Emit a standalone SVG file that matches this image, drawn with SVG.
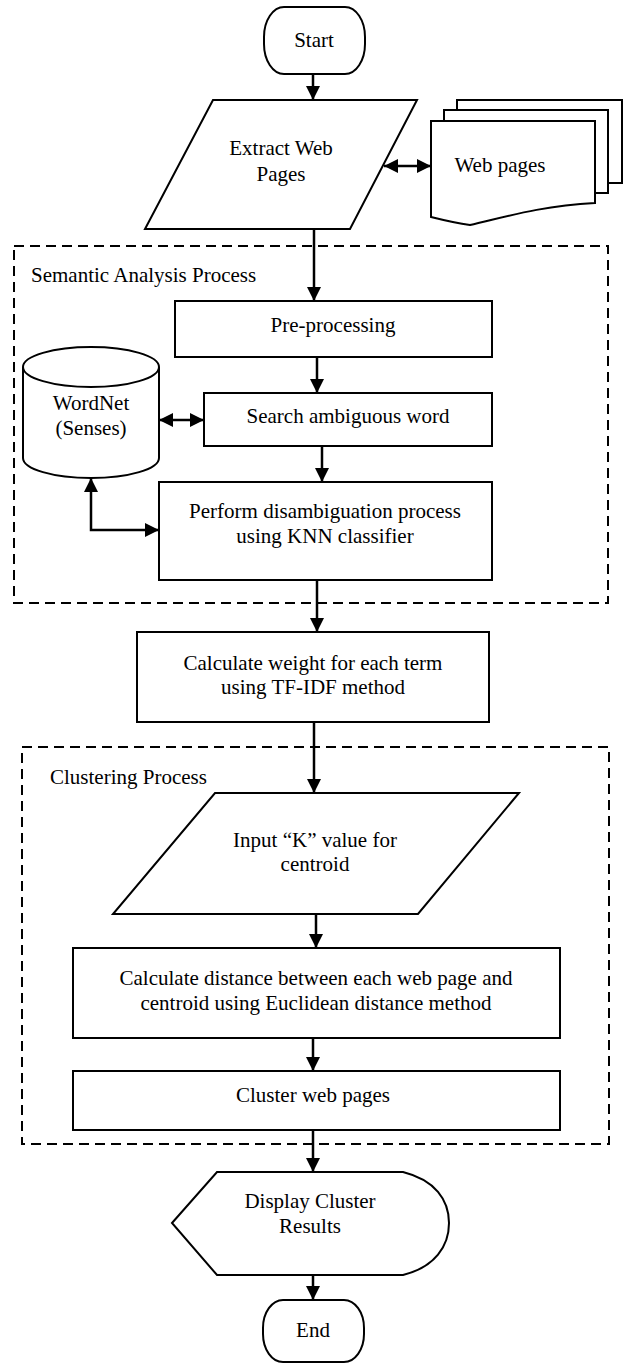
<svg xmlns="http://www.w3.org/2000/svg" width="623" height="1363" viewBox="0 0 623 1363">
<style>
  .shape { fill: #fff; stroke: #000; stroke-width: 2; }
  .grp { fill: none; stroke: #000; stroke-width: 2; stroke-dasharray: 10 6; }
  .conn { fill: none; stroke: #000; stroke-width: 2.5; }
  text { font-family: "Liberation Serif", "Times New Roman", serif; font-size: 21px; fill: #000; }
  .c { text-anchor: middle; }
</style>
<defs>
  <marker id="arr" markerUnits="userSpaceOnUse" markerWidth="14" markerHeight="14" refX="14" refY="7" orient="auto-start-reverse">
    <path d="M0,0 L14,7 L0,14 Z" fill="#000"/>
  </marker>
</defs>
<rect width="623" height="1363" fill="#fff"/>

<g id="group-semantic">
  <rect class="grp" x="14" y="246" width="594" height="357"/>
  <text x="31" y="282">Semantic Analysis Process</text>
</g>
<g id="group-clustering">
  <rect class="grp" x="22" y="747" width="587" height="397"/>
  <text x="50" y="784">Clustering Process</text>
</g>

<g id="start">
  <rect class="shape" x="264" y="7" width="101" height="67" rx="20" ry="30"/>
  <text class="c" x="314" y="47">Start</text>
</g>
<g id="extract">
  <polygon class="shape" points="213,100 417,100 350,229 145,229"/>
  <text class="c" x="281" y="155">Extract Web</text>
  <text class="c" x="281" y="181">Pages</text>
</g>
<g id="webpages">
  <path class="shape" d="M457,100 H622 V183 H608 V110 H457 Z"/>
  <path class="shape" d="M444,110 H608 V193 H595 V121 H444 Z"/>
  <path class="shape" d="M431,121 H595 V203 C540,206 505,217 470,225 C455,223 443,220 431,217 Z"/>
  <text class="c" x="500" y="172">Web pages</text>
</g>
<g id="preprocessing">
  <rect class="shape" x="175" y="301" width="317" height="56"/>
  <text class="c" x="333" y="332">Pre-processing</text>
</g>
<g id="wordnet">
  <path class="shape" d="M23,367 V458 A68,20 0 0 0 159,458 V367 A68,20 0 0 0 23,367 Z"/>
  <path class="shape" fill="none" d="M23,367 A68,20 0 0 0 159,367"/>
  <text class="c" x="91" y="410">WordNet</text>
  <text class="c" x="91" y="435">(Senses)</text>
</g>
<g id="search">
  <rect class="shape" x="204" y="393" width="288" height="53"/>
  <text class="c" x="348" y="423">Search ambiguous word</text>
</g>
<g id="perform">
  <rect class="shape" x="159" y="482" width="333" height="98"/>
  <text class="c" x="325" y="518">Perform disambiguation process</text>
  <text class="c" x="325" y="543">using KNN classifier</text>
</g>
<g id="weight">
  <rect class="shape" x="137" y="632" width="352" height="90"/>
  <text class="c" x="313" y="670">Calculate weight for each term</text>
  <text class="c" x="313" y="694">using TF-IDF method</text>
</g>
<g id="input">
  <polygon class="shape" points="215,793 519,793 418,914 113,914"/>
  <text class="c" x="315" y="847">Input “K” value for</text>
  <text class="c" x="315" y="871">centroid</text>
</g>
<g id="distance">
  <rect class="shape" x="73" y="948" width="487" height="90"/>
  <text class="c" x="316" y="985">Calculate distance between each web page and</text>
  <text class="c" x="316" y="1010">centroid using Euclidean distance method</text>
</g>
<g id="cluster">
  <rect class="shape" x="73" y="1071" width="487" height="59"/>
  <text class="c" x="313" y="1102">Cluster web pages</text>
</g>
<g id="display">
  <path class="shape" d="M172,1223 L217,1172 H403 C435,1180 449,1200 449,1223 C449,1246 435,1267 403,1275 H217 Z"/>
  <text class="c" x="310" y="1208">Display Cluster</text>
  <text class="c" x="310" y="1233">Results</text>
</g>
<g id="end">
  <rect class="shape" x="263" y="1300" width="101" height="62" rx="20" ry="28"/>
  <text class="c" x="313" y="1337">End</text>
</g>

<g id="connectors">
  <line class="conn" x1="313" y1="74" x2="313" y2="100" marker-end="url(#arr)"/>
  <line class="conn" x1="384" y1="166" x2="431" y2="166" marker-start="url(#arr)" marker-end="url(#arr)"/>
  <line class="conn" x1="314" y1="229" x2="314" y2="301" marker-end="url(#arr)"/>
  <line class="conn" x1="317" y1="357" x2="317" y2="393" marker-end="url(#arr)"/>
  <line class="conn" x1="159" y1="420" x2="204" y2="420" marker-start="url(#arr)" marker-end="url(#arr)"/>
  <line class="conn" x1="322" y1="446" x2="322" y2="482" marker-end="url(#arr)"/>
  <path class="conn" d="M91,478 V530 H159" marker-start="url(#arr)" marker-end="url(#arr)"/>
  <line class="conn" x1="317" y1="580" x2="317" y2="632" marker-end="url(#arr)"/>
  <line class="conn" x1="314" y1="722" x2="314" y2="793" marker-end="url(#arr)"/>
  <line class="conn" x1="316" y1="914" x2="316" y2="948" marker-end="url(#arr)"/>
  <line class="conn" x1="313" y1="1038" x2="313" y2="1071" marker-end="url(#arr)"/>
  <line class="conn" x1="313" y1="1130" x2="313" y2="1172" marker-end="url(#arr)"/>
  <line class="conn" x1="313" y1="1275" x2="313" y2="1300" marker-end="url(#arr)"/>
</g>
</svg>
